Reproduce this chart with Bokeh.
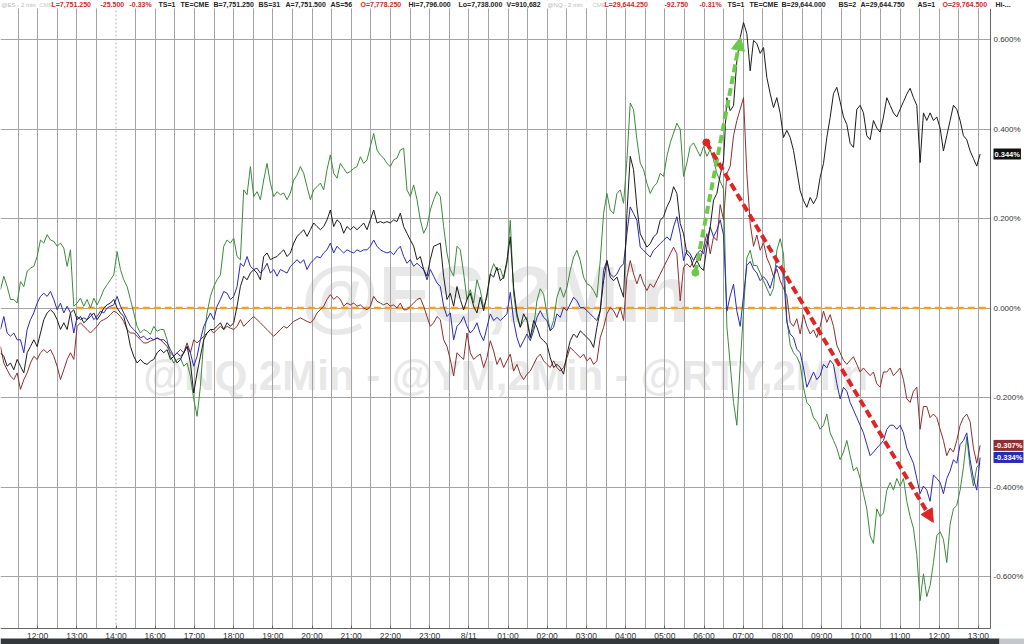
import numpy as np
from bokeh.plotting import figure
from bokeh.models import (Range1d, FixedTicker, PrintfTickFormatter, Label,
                          Arrow, NormalHead, BoxAnnotation)
from bokeh.embed import file_html
from bokeh.resources import INLINE

# ---------------- data ----------------
# sampling grid: minutes relative to the 12:00 session tick (session hours, 15:00-16:00 break removed)
T0_MIN = -56.8
STEP_MIN = 5.1

hour_labels = ["12:00", "13:00", "14:00", "16:00", "17:00", "18:00", "19:00", "20:00",
               "21:00", "22:00", "23:00", "8/11", "01:00", "02:00", "03:00", "04:00",
               "05:00", "06:00", "07:00", "08:00", "09:00", "10:00", "11:00", "12:00", "13:00"]

pct_ticks = [-0.6, -0.4, -0.2, 0.0, 0.2, 0.4, 0.6]

# black series (% change)
black = [
    -0.100, -0.108, -0.130, -0.123, -0.138, -0.115, -0.130, -0.145, -0.100, -0.086,
    -0.071, -0.086, -0.056, -0.026, -0.011, -0.004, -0.011, -0.026, -0.048, -0.033,
    -0.048, -0.011, -0.004, -0.026, -0.019, -0.033, -0.026, -0.019, -0.011, -0.026,
    -0.015, 0.000, 0.007, 0.011, 0.019, 0.000, -0.011, -0.019, -0.048, -0.086,
    -0.108, -0.123, -0.115, -0.123, -0.126, -0.119, -0.115, -0.100, -0.093, -0.100,
    -0.093, -0.115, -0.108, -0.123, -0.115, -0.100, -0.086, -0.123, -0.190, -0.145,
    -0.108, -0.071, -0.056, -0.048, -0.048, -0.041, -0.033, -0.048, -0.033, -0.041,
    -0.033, 0.004,
    0.048, 0.071, 0.063, 0.078, 0.086, 0.078, 0.063, 0.115, 0.123, 0.108,
    0.112, 0.115, 0.123, 0.130, 0.115, 0.123, 0.145, 0.160, 0.167, 0.175,
    0.160, 0.175, 0.190, 0.182, 0.175, 0.182, 0.197, 0.219, 0.182, 0.197,
    0.190, 0.167, 0.182, 0.175, 0.182, 0.175, 0.182, 0.190, 0.175, 0.197,
    0.219, 0.190, 0.193, 0.190, 0.193, 0.190, 0.197, 0.193, 0.212, 0.182,
    0.167, 0.152, 0.138, 0.108, 0.115, 0.086, 0.071, 0.108, 0.138, 0.141,
    0.145, 0.071, 0.019, 0.033, 0.004, 0.048, 0.019, -0.004, 0.019, 0.033,
    0.004, -0.011,
    0.024, -0.006, 0.031, 0.076, 0.069, 0.091, 0.061, 0.069, 0.106, 0.159,
    0.046, -0.013, -0.043, -0.013, -0.028, -0.066, -0.028, -0.043, -0.066, -0.073,
    -0.081, -0.111, -0.133, -0.126, -0.133, -0.148, -0.103, -0.073, -0.058, -0.066,
    -0.051, -0.058, -0.066, -0.073, -0.088, -0.043, -0.006, 0.061, 0.106, 0.069,
    0.061, 0.069, 0.046, 0.024, 0.211, 0.339, 0.309, 0.226, 0.166, 0.151,
    0.136, 0.144, 0.159, 0.166, 0.196, 0.204, 0.226, 0.241, 0.271, 0.256,
    0.189, 0.166, 0.121, 0.114, 0.091, 0.106, 0.091, 0.084, 0.136, 0.181,
    0.241, 0.256,
    0.297, 0.329, 0.470, 0.441, 0.452, 0.553, 0.604, 0.638, 0.613, 0.530,
    0.598, 0.591, 0.569, 0.582, 0.515, 0.479, 0.448, 0.470, 0.435, 0.381,
    0.397, 0.381, 0.352, 0.307, 0.262, 0.240, 0.225, 0.247, 0.233, 0.247,
    0.292, 0.323, 0.381, 0.426, 0.479, 0.493, 0.461, 0.427, 0.410, 0.368,
    0.359, 0.444, 0.453, 0.436, 0.385, 0.376, 0.419, 0.402, 0.393, 0.427,
    0.470, 0.453, 0.436, 0.427, 0.444, 0.461, 0.478, 0.491, 0.470, 0.453,
    0.325, 0.436, 0.419, 0.436, 0.419, 0.427, 0.402, 0.351, 0.385, 0.419,
    0.453, 0.444, 0.419, 0.385, 0.376, 0.351, 0.334, 0.317, 0.344,
]

green = [
    0.041, 0.071, 0.048, 0.019, 0.019, 0.011, 0.059, 0.048, 0.082, 0.089,
    0.093, 0.115, 0.152, 0.145, 0.164, 0.152, 0.149, 0.138, 0.145, 0.134,
    0.093, 0.130, 0.004, 0.011, 0.022, 0.004, 0.019, 0.000, 0.022, 0.007,
    0.022, 0.041, 0.052, 0.063, 0.074, 0.126, 0.086, 0.063, 0.048, 0.019,
    -0.011, -0.041, -0.056, -0.048, -0.052, -0.059, -0.041, -0.052, -0.048, -0.048,
    -0.071, -0.108, -0.123, -0.115, -0.112, -0.130, -0.123, -0.152, -0.204, -0.242,
    -0.175, -0.071, -0.011, 0.026, 0.048, 0.063, 0.074, 0.138, 0.152, 0.145,
    0.156, 0.115,
    0.108, 0.264, 0.253, 0.316, 0.249, 0.260, 0.242, 0.286, 0.323, 0.279,
    0.249, 0.260, 0.253, 0.257, 0.242, 0.257, 0.286, 0.297, 0.316, 0.301,
    0.271, 0.242, 0.264, 0.271, 0.279, 0.264, 0.309, 0.342, 0.301, 0.290,
    0.323, 0.312, 0.301, 0.305, 0.312, 0.316, 0.338, 0.323, 0.331, 0.361,
    0.390, 0.353, 0.342, 0.335, 0.323, 0.316, 0.331, 0.335, 0.353, 0.357,
    0.264, 0.249, 0.275, 0.242, 0.197, 0.167, 0.182, 0.219, 0.242, 0.260,
    0.249, 0.182, 0.123, 0.086, 0.071, 0.138, 0.130, 0.078, 0.019, 0.041,
    0.011, 0.063,
    0.039, 0.001, 0.024, 0.076, 0.099, 0.084, 0.088, 0.065, 0.099, 0.196,
    0.031, -0.021, -0.043, -0.028, -0.021, -0.066, -0.043, 0.016, 0.043, 0.031,
    -0.013, -0.051, -0.028, 0.024, 0.046, 0.024, 0.046, 0.084, 0.114, 0.129,
    0.106, 0.069, 0.054, 0.050, 0.039, 0.024, 0.106, 0.211, 0.256, 0.219,
    0.211, 0.256, 0.264, 0.234, 0.331, 0.458, 0.443, 0.376, 0.324, 0.309,
    0.279, 0.256, 0.271, 0.279, 0.301, 0.294, 0.339, 0.369, 0.391, 0.413,
    0.399, 0.294, 0.324, 0.361, 0.369, 0.354, 0.339, 0.361, 0.339, 0.354,
    0.331, 0.301,
    0.283, 0.266, -0.041, -0.126, -0.211, -0.262, -0.126, -0.007, 0.112, 0.129,
    0.095, 0.095, 0.078, 0.061, 0.044, 0.027, 0.044, 0.129, 0.155, 0.121,
    -0.024, -0.083, -0.100, -0.109, -0.126, -0.177, -0.211, -0.220, -0.245, -0.254,
    -0.271, -0.262, -0.237, -0.279, -0.296, -0.313, -0.339, -0.322, -0.296, -0.330,
    -0.364, -0.356, -0.381, -0.415, -0.449, -0.509, -0.526, -0.449, -0.466, -0.458,
    -0.407, -0.390, -0.407, -0.381, -0.398, -0.381, -0.432, -0.466, -0.492, -0.551,
    -0.654, -0.594, -0.645, -0.620, -0.569, -0.509, -0.500, -0.517, -0.569, -0.483,
    -0.449, -0.441, -0.407, -0.356, -0.288, -0.356, -0.398, -0.356, -0.347,
]

blue = [
    -0.048, -0.019, -0.056, -0.063, -0.056, -0.071, -0.071, -0.100, -0.048, -0.026,
    -0.011, 0.011, 0.026, 0.033, 0.026, 0.037, 0.019, -0.004, 0.011, -0.011,
    0.004, -0.011, -0.056, -0.019, -0.026, -0.022, -0.026, -0.011, -0.026, -0.019,
    -0.007, -0.011, 0.000, 0.004, 0.007, 0.026, 0.004, -0.011, -0.026, -0.041,
    -0.048, -0.056, -0.067, -0.063, -0.071, -0.067, -0.071, -0.067, -0.071, -0.071,
    -0.078, -0.093, -0.108, -0.100, -0.108, -0.100, -0.086, -0.100, -0.130, -0.108,
    -0.071, -0.041, -0.026, -0.011, -0.026, 0.004, 0.019, 0.037, 0.033, 0.019,
    0.026, 0.048,
    0.100, 0.093, 0.115, 0.093, 0.086, 0.089, 0.078, 0.086, 0.100, 0.078,
    0.086, 0.071, 0.086, 0.082, 0.078, 0.093, 0.100, 0.108, 0.100, 0.108,
    0.086, 0.100, 0.108, 0.115, 0.112, 0.123, 0.130, 0.145, 0.123, 0.138,
    0.130, 0.123, 0.130, 0.126, 0.123, 0.130, 0.126, 0.130, 0.130, 0.138,
    0.152, 0.138, 0.130, 0.126, 0.123, 0.126, 0.119, 0.130, 0.138, 0.115,
    0.100, 0.108, 0.093, 0.100, 0.093, 0.086, 0.063, 0.086, 0.071, 0.056,
    0.048, 0.004, -0.019, -0.011, -0.071, -0.041, -0.033, -0.019, -0.041, -0.056,
    -0.048, -0.033,
    -0.058, -0.073, -0.043, -0.013, -0.028, -0.021, -0.028, -0.021, -0.013, 0.035,
    -0.028, -0.066, -0.088, -0.073, -0.058, -0.073, -0.051, -0.021, -0.006, -0.021,
    -0.028, -0.051, -0.043, -0.013, -0.021, 0.001, -0.006, 0.009, 0.024, 0.016,
    0.001, 0.001, -0.006, -0.013, -0.021, -0.028, -0.006, 0.084, 0.106, 0.076,
    0.069, 0.076, 0.091, 0.099, 0.166, 0.226, 0.211, 0.196, 0.136, 0.129,
    0.121, 0.114, 0.129, 0.136, 0.144, 0.151, 0.159, 0.151, 0.181, 0.204,
    0.166, 0.106, 0.129, 0.121, 0.106, 0.121, 0.129, 0.121, 0.151, 0.181,
    0.159, 0.174,
    0.197, 0.163, -0.007, 0.027, 0.053, -0.007, -0.041, 0.027, 0.095, 0.104,
    0.087, 0.078, 0.061, 0.070, 0.061, 0.044, 0.070, 0.095, 0.087, 0.078,
    -0.032, -0.058, -0.066, -0.092, -0.100, -0.134, -0.177, -0.160, -0.143, -0.160,
    -0.151, -0.126, -0.134, -0.117, -0.126, -0.169, -0.203, -0.177, -0.186, -0.211,
    -0.228, -0.245, -0.262, -0.279, -0.305, -0.330, -0.322, -0.313, -0.305, -0.296,
    -0.271, -0.262, -0.262, -0.271, -0.262, -0.279, -0.313, -0.330, -0.347, -0.381,
    -0.415, -0.398, -0.407, -0.432, -0.373, -0.381, -0.390, -0.415, -0.381, -0.364,
    -0.339, -0.347, -0.305, -0.296, -0.279, -0.339, -0.381, -0.407, -0.334,
]

brown = [
    -0.086, -0.123, -0.138, -0.152, -0.160, -0.145, -0.182, -0.160, -0.145, -0.123,
    -0.108, -0.115, -0.100, -0.093, -0.100, -0.093, -0.108, -0.130, -0.160, -0.138,
    -0.115, -0.100, -0.115, -0.041, -0.033, -0.041, -0.048, -0.056, -0.048, -0.041,
    -0.030, -0.026, -0.022, -0.015, -0.007, -0.011, -0.019, -0.030, -0.048, -0.056,
    -0.056, -0.063, -0.071, -0.078, -0.078, -0.074, -0.071, -0.067, -0.071, -0.078,
    -0.086, -0.100, -0.108, -0.100, -0.093, -0.100, -0.078, -0.100, -0.071, -0.078,
    -0.071, -0.063, -0.056, -0.048, -0.056, -0.048, -0.041, -0.048, -0.041, -0.045,
    -0.048, -0.041,
    -0.026, -0.041, -0.033, -0.026, -0.019, -0.026, -0.033, -0.041, -0.048, -0.056,
    -0.063, -0.056, -0.048, -0.041, -0.045, -0.037, -0.030, -0.026, -0.022, -0.026,
    -0.030, -0.033, -0.026, -0.011, -0.004, 0.004, 0.019, 0.030, 0.019, 0.026,
    0.019, 0.004, 0.011, 0.007, 0.011, 0.004, 0.007, 0.000, -0.004, 0.004,
    0.026, 0.015, 0.011, 0.007, 0.011, 0.004, 0.007, 0.000, 0.011, -0.004,
    -0.004, 0.004, 0.011, 0.019, 0.022, 0.004, -0.019, -0.041, -0.033, -0.019,
    -0.026, -0.071, -0.086, -0.115, -0.152, -0.100, -0.108, -0.115, -0.056, -0.100,
    -0.115, -0.108,
    -0.103, -0.133, -0.111, -0.073, -0.096, -0.126, -0.111, -0.133, -0.118, -0.103,
    -0.141, -0.126, -0.148, -0.160, -0.148, -0.141, -0.126, -0.111, -0.103, -0.118,
    -0.126, -0.133, -0.118, -0.133, -0.141, -0.133, -0.111, -0.088, -0.096, -0.103,
    -0.111, -0.103, -0.118, -0.111, -0.126, -0.118, -0.066, -0.043, -0.013, 0.001,
    -0.006, -0.021, 0.001, -0.028, 0.069, 0.106, 0.076, 0.054, 0.076, 0.054,
    0.039, 0.054, 0.046, 0.061, 0.076, 0.091, 0.106, 0.121, 0.136, 0.121,
    0.016, 0.091, 0.099, 0.091, 0.106, 0.121, 0.106, 0.136, 0.166, 0.121,
    0.159, 0.151,
    0.231, 0.197, 0.300, 0.317, 0.385, 0.419, 0.444, 0.470, 0.300, 0.189,
    0.138, 0.163, 0.129, 0.146, 0.112, 0.095, 0.070, 0.087, 0.061, 0.044,
    0.027, -0.032, -0.041, -0.024, -0.058, -0.015, -0.041, -0.058, -0.049, -0.066,
    -0.041, -0.007, -0.032, -0.015, -0.041, -0.083, -0.100, -0.117, -0.126, -0.117,
    -0.109, -0.126, -0.143, -0.134, -0.143, -0.151, -0.143, -0.169, -0.177, -0.143,
    -0.143, -0.134, -0.151, -0.143, -0.134, -0.160, -0.203, -0.211, -0.186, -0.177,
    -0.271, -0.220, -0.220, -0.245, -0.237, -0.245, -0.271, -0.296, -0.330, -0.313,
    -0.322, -0.296, -0.262, -0.245, -0.237, -0.254, -0.313, -0.347, -0.307,
]

# last values shown in the right-hand tags
last_black, last_brown, last_blue = 0.344, -0.307, -0.334

# annotation arrows (session hour, %)
green_arrow = (16.78, 0.079, 17.93, 0.605)
red_arrow = (17.06, 0.370, 22.85, -0.479)

# ---------------- figure ----------------
FONT = "Liberation Sans"
W, H = 1024, 644
PX_PER_H, PX_PER_PCT = 39.2, 447.5
AXIS_RIGHT_PX, AXIS_BOTTOM_PX, HEADER_PX, BAR_PX = 990, 628, 8, 638
X0 = -37.1 / PX_PER_H
X1 = X0 + W / PX_PER_H
X_AX = X0 + AXIS_RIGHT_PX / PX_PER_H
Y1 = 307.5 / PX_PER_PCT
Y0 = Y1 - H / PX_PER_PCT
Y_AX = Y1 - AXIS_BOTTOM_PX / PX_PER_PCT
Y_HEAD = Y1 - HEADER_PX / PX_PER_PCT
Y_BAR = Y1 - BAR_PX / PX_PER_PCT

p = figure(width=W, height=H, output_backend="svg", toolbar_location=None,
           x_range=Range1d(X0, X1), y_range=Range1d(Y0, Y1),
           y_axis_location="right",
           min_border_left=0, min_border_top=0, min_border_right=0, min_border_bottom=0)
p.background_fill_color = "white"
p.border_fill_color = "white"
p.outline_line_color = None

# grids
half_hours = [k * 0.5 for k in range(-1, 50) if k != 4]
p.xgrid.ticker = FixedTicker(ticks=half_hours)
p.xgrid.grid_line_color = "#a3a3a3"
p.ygrid.ticker = FixedTicker(ticks=pct_ticks)
p.ygrid.grid_line_color = "#a3a3a3"

# white margins outside the chart area, dark status bar at the bottom
p.add_layout(BoxAnnotation(left=X_AX, right=X1, bottom=Y0, top=Y1, fill_color="white",
                           fill_alpha=1.0, line_alpha=0.0, level="underlay"))
p.add_layout(BoxAnnotation(left=X0, right=X1, bottom=Y0, top=Y_AX, fill_color="white",
                           fill_alpha=1.0, line_alpha=0.0, level="underlay"))
p.add_layout(BoxAnnotation(left=X0, right=X0 + 999 / PX_PER_H, bottom=Y0, top=Y_BAR,
                           fill_color="#33383d", fill_alpha=1.0, line_alpha=0.0, level="underlay"))
p.add_layout(BoxAnnotation(left=X0 + 999 / PX_PER_H, right=X1, bottom=Y0, top=Y_BAR,
                           fill_color="#c4c8cc", fill_alpha=1.0, line_alpha=0.0, level="underlay"))

# watermark
p.add_layout(Label(x=11.68, y=0.03, text="@ES,2Min", text_font=FONT, text_font_size="80px",
                   text_font_style="bold", text_color="#e8e8e8", text_align="center",
                   text_baseline="middle", level="image"))
p.add_layout(Label(x=11.94, y=-0.151, text="@NQ,2Min - @YM,2Min - @RTY,2Min", text_font=FONT,
                   text_font_size="42px", text_font_style="bold", text_color="#e8e8e8",
                   text_align="center", text_baseline="middle", level="image"))

# session break dotted line
p.segment(x0=[2], y0=[Y_AX], x1=[2], y1=[Y1], line_color="#b5b5b5", line_dash="2 2",
          line_width=1)

t = (T0_MIN + STEP_MIN * np.arange(len(black))) / 60.0

# zero reference line (orange dashed)
p.segment(x0=[1.0], y0=[0.0], x1=[X_AX], y1=[0.0], line_color="#f4a11c", line_width=2.5,
          line_dash="7 4")

p.line(t, brown, line_color="#8e2f2f", line_width=1)
p.line(t, green, line_color="#3b8a3b", line_width=1)
p.line(t, blue, line_color="#2a2ab8", line_width=1)
p.line(t, black, line_color="#1c1c1c", line_width=1)

# arrows
gx0, gy0, gx1, gy1 = green_arrow
p.add_layout(Arrow(x_start=gx0, y_start=gy0, x_end=gx1, y_end=gy1, line_color="#6cc94a",
                   line_width=4, line_dash="8 4",
                   end=NormalHead(size=13, fill_color="#6cc94a", line_color="#6cc94a")))
p.scatter([gx0], [gy0], size=7, color="#6cc94a")
rx0, ry0, rx1, ry1 = red_arrow
p.add_layout(Arrow(x_start=rx0, y_start=ry0, x_end=rx1, y_end=ry1, line_color="#e02424",
                   line_width=4, line_dash="8 4",
                   end=NormalHead(size=13, fill_color="#e02424", line_color="#e02424")))
p.scatter([rx0], [ry0], size=7, color="#e02424")

# axes (fixed at the chart edges, labels in the white margins)
p.xaxis.fixed_location = Y_AX
p.xaxis.bounds = (X0, X_AX)
p.xaxis.ticker = FixedTicker(ticks=list(range(len(hour_labels))))
p.xaxis.major_label_overrides = {i: lab for i, lab in enumerate(hour_labels)}
p.xaxis.major_label_text_font = FONT
p.xaxis.major_label_text_font_size = "8.5px"
p.xaxis.major_label_text_color = "#333333"
p.xaxis.major_label_standoff = 2
p.xaxis.major_tick_in = 3
p.xaxis.major_tick_out = 0
p.xaxis.minor_tick_in = 0
p.xaxis.minor_tick_out = 0
p.xaxis.axis_line_color = "#666666"
p.xaxis.major_tick_line_color = "#666666"

p.yaxis.fixed_location = X_AX
p.yaxis.bounds = (Y_AX, Y_HEAD)
p.yaxis.ticker = FixedTicker(ticks=pct_ticks)
p.yaxis.formatter = PrintfTickFormatter(format="%.3f%%")
p.yaxis.major_label_text_font = FONT
p.yaxis.major_label_text_font_size = "8px"
p.yaxis.major_label_text_color = "#333333"
p.yaxis.major_label_standoff = 3
p.yaxis.major_tick_in = 0
p.yaxis.major_tick_out = 0
p.yaxis.minor_tick_in = 0
p.yaxis.minor_tick_out = 0
p.yaxis.axis_line_color = "#666666"

# header strip: white band above the grid
p.add_layout(BoxAnnotation(bottom=Y_HEAD, top=Y1, left=X0, right=X1, fill_color="white",
                           fill_alpha=1.0, line_alpha=0.0, level="annotation"))

header = [
    ("@ES - 2 min", "#b8b8b8", 1, "normal"), ("CME", "#c8c8c8", 39, "normal"),
    ("L=7,751.250", "#cc2a2a", 51, "bold"), ("-25.500", "#cc2a2a", 100, "bold"),
    ("-0.33%", "#cc2a2a", 129, "bold"), ("TS=1", "#222222", 158, "bold"),
    ("TE=CME", "#222222", 180, "bold"), ("B=7,751.250", "#222222", 213, "bold"),
    ("BS=31", "#222222", 258, "bold"), ("A=7,751.500", "#222222", 285, "bold"),
    ("AS=56", "#222222", 330, "bold"), ("O=7,778.250", "#cc2a2a", 360, "bold"),
    ("Hi=7,796.000", "#222222", 408, "bold"), ("Lo=7,738.000", "#222222", 458, "bold"),
    ("V=910,682", "#222222", 506, "bold"),
    ("@NQ - 2 min", "#b8b8b8", 547, "normal"), ("CME", "#c8c8c8", 592, "normal"),
    ("L=29,644.250", "#cc2a2a", 604, "bold"), ("-92.750", "#cc2a2a", 664, "bold"),
    ("-0.31%", "#cc2a2a", 699, "bold"), ("TS=1", "#222222", 727, "bold"),
    ("TE=CME", "#222222", 749, "bold"), ("B=29,644.000", "#222222", 781, "bold"),
    ("BS=2", "#222222", 838, "bold"), ("A=29,644.750", "#222222", 860, "bold"),
    ("AS=1", "#222222", 917, "bold"), ("O=29,764.500", "#cc2a2a", 942, "bold"),
    ("Hi-...", "#222222", 995, "bold"),
]
for txt, col, px, style in header:
    size = "6px" if style == "normal" else "7px"
    p.add_layout(Label(x=X0 + px / PX_PER_H, y=Y1, y_offset=-4, text=txt, text_font=FONT,
                       text_font_size=size, text_font_style=style, text_color=col,
                       text_baseline="middle", text_align="left"))

# last-value tags just right of the chart edge
for val, col in [(last_black, "#111111"), (last_brown, "#8e2f2f"), (last_blue, "#2a2ab8")]:
    p.add_layout(Label(x=X_AX, x_offset=3, y=val, text="%.3f%%" % val,
                       text_font=FONT, text_font_size="7.5px", text_font_style="bold",
                       text_color="white", background_fill_color=col, padding=1,
                       text_baseline="middle", text_align="left"))

open("out.html", "w").write(file_html(p, INLINE))
